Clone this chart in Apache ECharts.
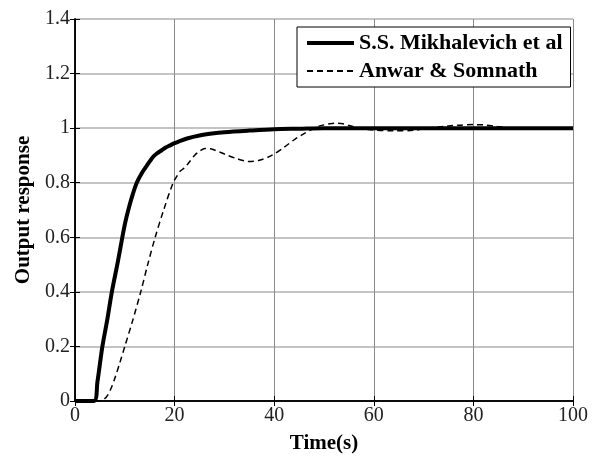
<!DOCTYPE html>
<html>
<head>
<meta charset="utf-8">
<script src="https://cdn.jsdelivr.net/npm/echarts@6/dist/echarts.min.js"></script>
<style>html,body{margin:0;padding:0;background:#fff}#c{width:597px;height:459px}</style>
</head>
<body>
<div id="c"></div>
<script>
// Series names
var seriesNames = ['S.S. Mikhalevich et al', 'Anwar & Somnath'];
// S.S. Mikhalevich et al (solid)
var solidT = [0, 3.8, 4.5, 5.5, 6.5, 7.4, 8.6, 9.5, 10.1, 10.7, 11.5, 12.4, 13.4, 14.4, 15.7, 16.5, 17.4, 18.2, 19.1, 20, 21, 22.5, 25, 27.5, 30, 35, 40, 45, 50, 60, 70, 80, 90, 100];
var solidV = [0, 0, 0.07, 0.2, 0.3, 0.4, 0.51, 0.6, 0.655, 0.7, 0.752, 0.8, 0.835, 0.862, 0.895, 0.908, 0.919, 0.929, 0.937, 0.945, 0.952, 0.962, 0.973, 0.98, 0.985, 0.991, 0.996, 0.998, 1, 1, 1, 1, 1, 1];
// Anwar & Somnath (dashed)
var dashT = [0, 5, 5.8, 6.5, 7.2, 8, 9, 10, 11.5, 13.2, 14.6, 16.1, 17.8, 19.7, 20.4, 21, 22, 22.8, 24, 25, 26.1, 27, 28, 30, 32.5, 34.8, 37, 39.5, 42, 44.2, 46, 47.5, 48.8, 50, 51.2, 52.5, 53.8, 55, 57, 60, 64, 68, 71, 75, 77.5, 80, 82, 84, 87.4, 90, 100];
var dashV = [0, 0, 0.006, 0.02, 0.045, 0.083, 0.14, 0.2, 0.29, 0.4, 0.5, 0.6, 0.7, 0.8, 0.822, 0.84, 0.855, 0.872, 0.9, 0.915, 0.925, 0.925, 0.92, 0.905, 0.888, 0.878, 0.882, 0.9, 0.93, 0.96, 0.98, 0.995, 1.006, 1.012, 1.016, 1.018, 1.016, 1.01, 1.0, 0.993, 0.99, 0.992, 1.0, 1.008, 1.011, 1.013, 1.012, 1.008, 1.0, 1.0, 1.0];
// Axis ranges / ticks
var xMin = 0, xMax = 100, xStep = 20;
var yMin = 0, yMax = 1.4, yStep = 0.2;
var xName = 'Time(s)', yName = 'Output response';

function pairs(t, v) { return t.map(function (x, i) { return [x, v[i]]; }); }

var font = '"Liberation Serif", "Times New Roman", serif';
var el = document.getElementById('c');
var chart = echarts.init(el, null, { renderer: 'canvas' });
var frame = { show: true, lineStyle: { color: '#000', width: 1.5 } };
var tick = { show: true, inside: true, length: 5, lineStyle: { color: '#000', width: 1 } };
chart.setOption({
  animation: false,
  backgroundColor: '#fff',
  grid: { left: 75, right: 24, top: 19, bottom: 49, containLabel: false },
  legend: {
    data: [{ name: seriesNames[0], lineStyle: { width: 4 } }, { name: seriesNames[1] }],
    orient: 'vertical',
    left: 297, top: 27,
    padding: [5, 8, 5, 8],
    itemGap: 6,
    itemWidth: 47,
    itemHeight: 14,
    backgroundColor: '#fff',
    borderColor: '#000',
    borderWidth: 1,
    borderRadius: 0,
    itemStyle: { opacity: 0 },
    textStyle: { fontFamily: font, fontWeight: 'bold', fontSize: 22, color: '#000' }
  },
  xAxis: [{
    type: 'value', min: xMin, max: xMax, interval: xStep,
    name: xName, nameLocation: 'middle', nameGap: 32,
    nameTextStyle: { fontFamily: font, fontWeight: 'bold', fontSize: 21, color: '#000' },
    axisLine: frame, axisTick: tick,
    axisLabel: { fontFamily: font, fontSize: 20, color: '#222', margin: 5 },
    splitLine: { show: true, lineStyle: { color: '#8a8a8a', width: 1 } }
  }, {
    type: 'value', position: 'top', min: xMin, max: xMax, interval: xStep,
    axisLine: frame, axisTick: tick, axisLabel: { show: false }, splitLine: { show: false }
  }],
  yAxis: [{
    type: 'value', min: yMin, max: yMax, interval: yStep,
    name: yName, nameLocation: 'middle', nameGap: 41,
    nameTextStyle: { fontFamily: font, fontWeight: 'bold', fontSize: 21, color: '#000' },
    axisLine: frame, axisTick: tick,
    axisLabel: { fontFamily: font, fontSize: 20, color: '#222', margin: 5,
      formatter: function (v) { return String(Math.round(v * 10) / 10); } },
    splitLine: { show: true, lineStyle: { color: '#b0b0b0', width: 1.5 } }
  }, {
    type: 'value', position: 'right', min: yMin, max: yMax, interval: yStep,
    axisLine: frame, axisTick: tick, axisLabel: { show: false }, splitLine: { show: false }
  }],
  series: [{
    name: seriesNames[0], type: 'line', xAxisIndex: 0, yAxisIndex: 0,
    data: pairs(solidT, solidV), symbol: 'none', smooth: 0.3,
    lineStyle: { color: '#000', width: 4, join: 'round' }, itemStyle: { color: '#000' }, z: 3
  }, {
    name: seriesNames[1], type: 'line', xAxisIndex: 0, yAxisIndex: 0,
    data: pairs(dashT, dashV), symbol: 'none', smooth: 0.3,
    lineStyle: { color: '#000', width: 1.5, type: [6, 4], join: 'round' }, itemStyle: { color: '#000' }, z: 4
  }]
});
</script>
</body>
</html>
